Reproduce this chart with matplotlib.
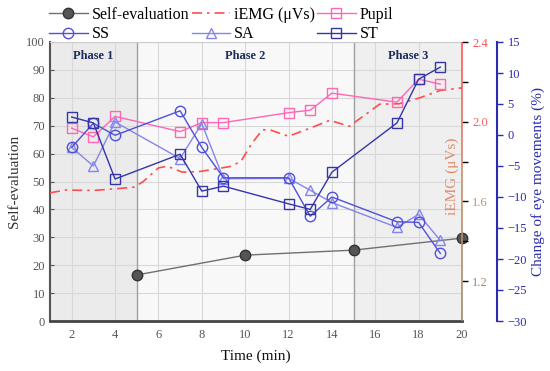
import numpy as np
import matplotlib
matplotlib.use("Agg")
import matplotlib.pyplot as plt
from matplotlib.collections import LineCollection
from matplotlib.lines import Line2D

plt.rcParams['font.family'] = ['Liberation Serif', 'DejaVu Serif']

# self-evaluation (left axis)
self_t = [5, 10, 15, 20]
self_val = [16.5, 23.6, 25.4, 29.7]

# iEMG (uVs) curve
emg_t = [1, 1.7, 3, 4.2, 4.9, 5.3, 6.0, 6.4, 7.1, 7.9, 8.7, 9.3, 9.8, 10.3, 10.8,
         11.2, 12.0, 13.0, 13.9, 14.8, 15.6, 16.2, 17.1, 18.0, 19.0, 20]
emg_val = [1.643, 1.657, 1.655, 1.665, 1.672, 1.70, 1.768, 1.777, 1.747, 1.75, 1.764,
           1.775, 1.80, 1.89, 1.96, 1.957, 1.927, 1.968, 2.007, 1.977, 2.04, 2.088,
           2.09, 2.118, 2.157, 2.17]

# change of eye movements (%)
eye_t = [2, 3, 4, 7, 8, 9, 12, 13, 14, 17, 18, 19]
pupil = [1.1, -0.3, 3.0, 0.55, 2.0, 2.0, 3.6, 4.0, 6.75, 5.3, 9.0, 8.2]
ss = [-2.0, 1.9, -0.05, 3.9, -2.0, -6.9, -6.9, -13.1, -10.0, -14.0, -14.1, -19.1]
sa = [-2.0, -5.0, 2.1, -3.8, 1.85, -7.05, -7.0, -8.9, -10.9, -14.9, -12.8, -17.0]
st = [2.9, 1.95, -7.1, -3.1, -9.05, -8.25, -11.1, -12.0, -6.0, 1.95, 9.0, 10.95]

phases = ['Phase 1', 'Phase 2', 'Phase 3']
phase_edges = [1, 5, 15, 20]

fig = plt.figure(figsize=(5.5, 3.71), dpi=100)
ax = fig.add_axes([50/550, 50/371, 412/550, 279/371])

# phase backgrounds
bg = ['#ebebeb', '#f8f8f8', '#efefef']
for i in range(3):
    ax.axvspan(phase_edges[i], phase_edges[i+1], color=bg[i], zorder=0, lw=0)
    ax.text((phase_edges[i] + phase_edges[i+1]) / 2, 95, phases[i], ha='center', va='center',
            fontsize=9, fontweight='bold', color='#1c2c5c', zorder=5)
for xv in [5, 15]:
    ax.axvline(xv, color='#a0a0a0', lw=1, zorder=1)

ax.set_xlim(1, 20)
ax.set_ylim(0, 100)
ax.set_xticks(range(2, 21, 2))
ax.set_yticks(range(0, 101, 10))
ax.grid(True, color='#d8d8d8', lw=0.8, zorder=0.5)
ax.set_axisbelow(True)
ax.tick_params(axis='both', labelsize=9, colors='#555555', direction='in', length=3)
ax.tick_params(axis='x', length=0, pad=6)
ax.spines['left'].set_color('#555555')
ax.spines['left'].set_linewidth(1.5)
ax.spines['bottom'].set_color('#444444')
ax.spines['bottom'].set_linewidth(2)
ax.spines['top'].set_color('#cccccc')
ax.spines['right'].set_visible(False)
ax.set_ylabel('Self-evaluation', fontsize=11, color='#333333', labelpad=4)
ax.set_xlabel('Time (min)', fontsize=11, color='#111111', labelpad=6)

ax.plot(self_t, self_val, color='#707070', lw=1, marker='o', markersize=7.5,
        markerfacecolor='#555555', markeredgecolor='#333333', zorder=4, clip_on=False)

# iEMG axis
ax2 = ax.twinx()
ax2.set_ylim(1.0, 2.4)
ax2.set_yticks([1.2, 1.6, 2.0, 2.4])
ax2.set_yticks([1.4, 1.8, 2.2], minor=True)
ax2.set_yticklabels(['1.2', '1.6', '2.0', '2.4'])
ax2.tick_params(axis='y', labelsize=9, direction='out', length=4, width=1)
ax2.tick_params(axis='y', which='minor', direction='out', length=4, width=1)
tcols = ['#a08868', '#c09070', '#f06060', '#ff5050']
for lab, tk, c in zip(ax2.get_yticklabels(), ax2.yaxis.get_major_ticks(), tcols):
    lab.set_color(c)
    tk.tick2line.set_color(c)
for tk, c in zip(ax2.yaxis.get_minor_ticks(), ['#b08c6c', '#e07868', '#ff5555']):
    tk.tick2line.set_color(c)
for s in ['left', 'top', 'bottom', 'right']:
    ax2.spines[s].set_visible(False)
yy = np.linspace(1.0, 2.4, 30)
segs = [[(1, yy[i]), (1, yy[i+1])] for i in range(len(yy) - 1)]
cmap = matplotlib.colors.LinearSegmentedColormap.from_list('g', ['#a08a6a', '#c89070', '#ff5555'])
lc = LineCollection(segs, colors=cmap(np.linspace(0, 1, len(segs))), lw=1.2,
                    transform=ax2.get_yaxis_transform(), clip_on=False)
ax2.add_collection(lc)
ax2.text(0.976, 0.52, 'iEMG (μVs)', transform=ax2.transAxes, rotation=90, ha='center',
         va='center', fontsize=11, color='#e08a6a')
ax2.plot(emg_t, emg_val, color='#ff4d4d', lw=1.2, dashes=(6, 3, 1.5, 3), zorder=3)

# eye movement axis
ax3 = ax.twinx()
ax3.spines['right'].set_position(('axes', 1.085))
for s in ['left', 'top', 'bottom']:
    ax3.spines[s].set_visible(False)
ax3.spines['right'].set_color('#2b2bb0')
ax3.spines['right'].set_linewidth(1.5)
ax3.set_ylim(-30, 15)
ax3.set_yticks(range(-30, 16, 5))
ax3.set_yticklabels([str(v).replace('-', '\u2212') for v in range(-30, 16, 5)])
ax3.tick_params(axis='y', labelsize=9, colors='#2b2bb0', direction='out', length=4, width=1)
ax3.set_ylabel('Change of eye movements (%)', fontsize=11, color='#2b2bb0', labelpad=3)

c_pupil = '#ff66b3'
c_ss = '#5050d8'
c_sa = '#8585ee'
c_st = '#3535a8'
mk = dict(markersize=7.5, markerfacecolor='none', markeredgewidth=1, lw=1)
ax3.plot(eye_t, pupil, color=c_pupil, marker='s', **mk)
ax3.plot(eye_t, sa, color=c_sa, marker='^', **mk)
ax3.plot(eye_t, ss, color=c_ss, marker='o', **mk)
ax3.plot(eye_t, st, color=c_st, marker='s', **mk)

handles = [
    Line2D([], [], color='#707070', lw=1, marker='o', markersize=7.5,
           markerfacecolor='#555555', markeredgecolor='#333333'),
    Line2D([], [], color=c_ss, marker='o', **mk),
    Line2D([], [], color='#ff4d4d', lw=1.2, dashes=(6, 3, 1.5, 3)),
    Line2D([], [], color=c_sa, marker='^', **mk),
    Line2D([], [], color=c_pupil, marker='s', **mk),
    Line2D([], [], color=c_st, marker='s', **mk),
]
labels = ['Self-evaluation', 'SS', 'iEMG (μVs)', 'SA', 'Pupil', 'ST']
fig.legend(handles, labels, loc='upper left', bbox_to_anchor=(46/550, 0.99), ncol=3,
           frameon=False, fontsize=11.5, handlelength=2.4, handletextpad=0.25,
           columnspacing=0.15, labelspacing=0.2, borderaxespad=0, borderpad=0.2)

fig.savefig('out.png', dpi=100)
